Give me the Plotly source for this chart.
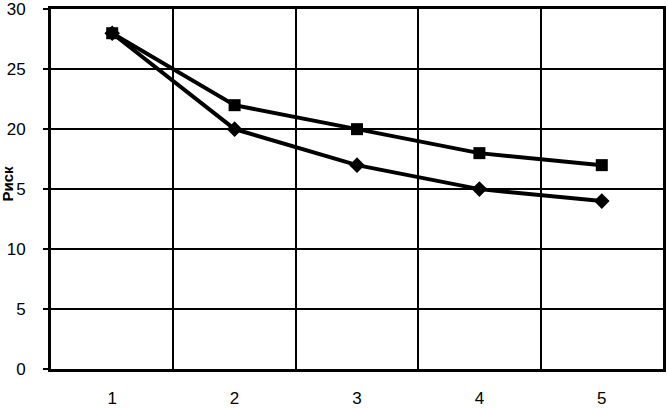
import plotly.graph_objects as go

categories = [1, 2, 3, 4, 5]
risk_squares = [28, 22, 20, 18, 17]
risk_diamonds = [28, 20, 17, 15, 14]
y_ticks = [0, 5, 10, 15, 20, 25, 30]


def main():
    fig = go.Figure()
    fig.add_trace(
        go.Scatter(
            x=categories,
            y=risk_squares,
            mode="lines+markers",
            line=dict(color="black", width=4),
            marker=dict(symbol="square", size=12, color="black"),
            showlegend=False,
            cliponaxis=False,
        )
    )
    fig.add_trace(
        go.Scatter(
            x=categories,
            y=risk_diamonds,
            mode="lines+markers",
            line=dict(color="black", width=4),
            marker=dict(symbol="diamond", size=12, color="black"),
            showlegend=False,
            cliponaxis=False,
        )
    )

    fig.update_layout(
        width=668,
        height=408,
        margin=dict(l=51, r=5, t=9, b=39),
        paper_bgcolor="white",
        plot_bgcolor="white",
        font=dict(family="Liberation Sans, Arial", size=17, color="black"),
    )
    fig.update_xaxes(
        range=[0.5, 5.5],
        tickvals=categories,
        ticktext=[str(c) for c in categories],
        showgrid=False,
        zeroline=False,
        showline=True,
        linecolor="black",
        linewidth=3,
        mirror=True,
        ticks="",
        ticklabelstandoff=12,
        automargin=False,
        minor=dict(tickvals=[1.5, 2.5, 3.5, 4.5], showgrid=True,
                   gridcolor="black", gridwidth=2),
    )
    fig.update_yaxes(
        range=[0, 30.02],
        tickvals=y_ticks,
        ticktext=[str(v) for v in y_ticks],
        showgrid=True,
        gridcolor="black",
        gridwidth=2,
        zeroline=False,
        showline=True,
        linecolor="black",
        linewidth=3,
        mirror=True,
        ticks="outside",
        ticklen=5,
        tickwidth=2,
        tickcolor="black",
        ticklabelstandoff=14,
        ticklabeloverflow="allow",
        automargin=False,
    )

    # axis title drawn as an annotation so it sits over the "1" of 15, like the original
    fig.add_annotation(
        text="<b>Риск</b>",
        textangle=-90,
        xref="paper",
        yref="paper",
        x=-51 / 612,
        y=(194 - 9) / 360,
        xanchor="left",
        yanchor="middle",
        xshift=-3,
        showarrow=False,
        bgcolor="white",
        borderpad=0,
        font=dict(size=15),
    )

    fig.write_html(
        "out.html",
        config={"displayModeBar": False},
        post_script="document.body.style.margin='0';",
    )


if __name__ == "__main__":
    main()
